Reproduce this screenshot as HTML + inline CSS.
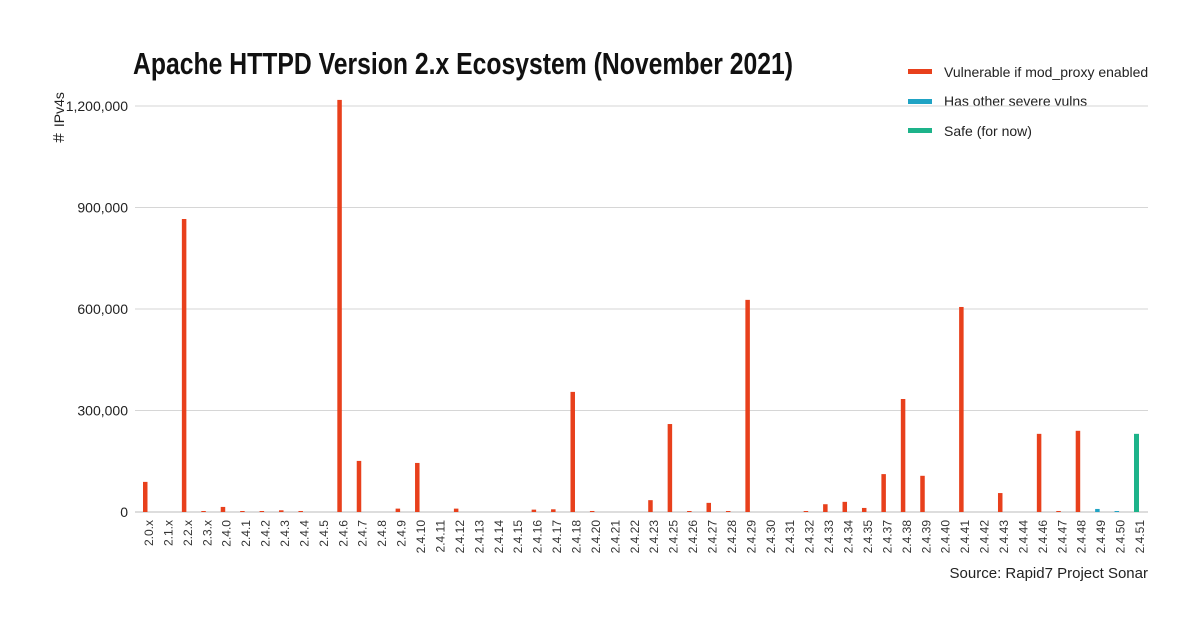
<!DOCTYPE html>
<html><head><meta charset="utf-8"><style>
body{margin:0;background:#fff;width:1200px;height:632px;overflow:hidden;font-family:"Liberation Sans Narrow","Liberation Sans",sans-serif;}
svg text{font-family:"Liberation Sans Narrow","Liberation Sans",sans-serif;}
</style></head><body>
<svg id="chart" width="1200" height="632" xmlns="http://www.w3.org/2000/svg">
<text x="133" y="74" font-size="31" font-weight="bold" fill="#111" textLength="660" lengthAdjust="spacingAndGlyphs">Apache HTTPD Version 2.x Ecosystem (November 2021)</text>
<text transform="translate(64,145) rotate(-90)" font-size="14" fill="#222">＃ IPv4s</text>
<text x="1148" y="578" font-size="15" fill="#222" text-anchor="end">Source: Rapid7 Project Sonar</text>
<g>
<rect x="908" y="69" width="24" height="5" fill="#e8401c"/>
<text x="944" y="77" font-size="14" fill="#222">Vulnerable if mod_proxy enabled</text>
<rect x="908" y="99" width="24" height="5" fill="#1fa3c4"/>
<text x="944" y="106" font-size="14" fill="#222">Has other severe vulns</text>
<rect x="908" y="128" width="24" height="5" fill="#1db38a"/>
<text x="944" y="136" font-size="14" fill="#222">Safe (for now)</text>
</g>
<g id="grid"></g><g id="bars"></g><g id="xlabels"></g>
</svg>
<script>
const categories=["2.0.x","2.1.x","2.2.x","2.3.x","2.4.0","2.4.1","2.4.2","2.4.3","2.4.4","2.4.5","2.4.6","2.4.7","2.4.8","2.4.9","2.4.10","2.4.11","2.4.12","2.4.13","2.4.14","2.4.15","2.4.16","2.4.17","2.4.18","2.4.20","2.4.21","2.4.22","2.4.23","2.4.25","2.4.26","2.4.27","2.4.28","2.4.29","2.4.30","2.4.31","2.4.32","2.4.33","2.4.34","2.4.35","2.4.37","2.4.38","2.4.39","2.4.40","2.4.41","2.4.42","2.4.43","2.4.44","2.4.46","2.4.47","2.4.48","2.4.49","2.4.50","2.4.51"];
const values=[89000,0,866000,1500,15000,500,1500,5000,3000,0,1218000,151000,0,10000,145000,0,10000,0,0,0,7000,8000,355000,3000,0,0,35000,260000,2000,27000,2000,627000,0,0,1000,23000,30000,12000,112000,334000,107000,0,606000,0,56000,0,231000,3000,240000,9000,2000,231000];
const seriesIdx=[0,0,0,0,0,0,0,0,0,0,0,0,0,0,0,0,0,0,0,0,0,0,0,0,0,0,0,0,0,0,0,0,0,0,0,0,0,0,0,0,0,0,0,0,0,0,0,0,0,1,1,2];
const seriesNames=["vulnerable","other-severe","safe"];
const yTicks=[0,300000,600000,900000,1200000];
const tickLabels=["0","300,000","600,000","900,000","1,200,000"];
const colors=["#e8401c","#1fa3c4","#1db38a"];
const NS="http://www.w3.org/2000/svg";
const y0=512,yTop=106,yMax=1200000;
const y=v=>y0-(v/yMax)*(y0-yTop);
const x0=145,x1=1136;
const x=i=>x0+i*(x1-x0)/(categories.length-1);
function mk(tag,attrs,parent){const e=document.createElementNS(NS,tag);for(const k in attrs)e.setAttribute(k,attrs[k]);parent.appendChild(e);return e;}
const grid=document.getElementById('grid');
yTicks.forEach((t,i)=>{
  const l=mk('line',{x1:135,x2:1148,y1:y(t),y2:y(t),stroke:i?'#d6d6d6':'#bbb','stroke-width':1},grid);
  
  
  const tx=mk('text',{x:128,y:y(t)+5,'font-size':14,fill:'#222','text-anchor':'end'},grid);
  
  
  tx.textContent=tickLabels[i];
});
const bars=document.getElementById('bars'),xl=document.getElementById('xlabels');
categories.forEach((c,i)=>{
  const v=values[i];const s=seriesIdx[i];
  if(v>0){
    const h=Math.max(1,y0-y(v));
    const r=mk('rect',{x:x(i)-2,y:y0-h,width:s===2?5:4.5,height:h,fill:colors[s]},bars);
    
    
  }
  const t=mk('text',{transform:`translate(${x(i)+8},${520}) rotate(-90)`,'font-size':12,fill:'#333','text-anchor':'end'},xl);
  
  
  t.textContent=c;
});
</script>
</body></html>
